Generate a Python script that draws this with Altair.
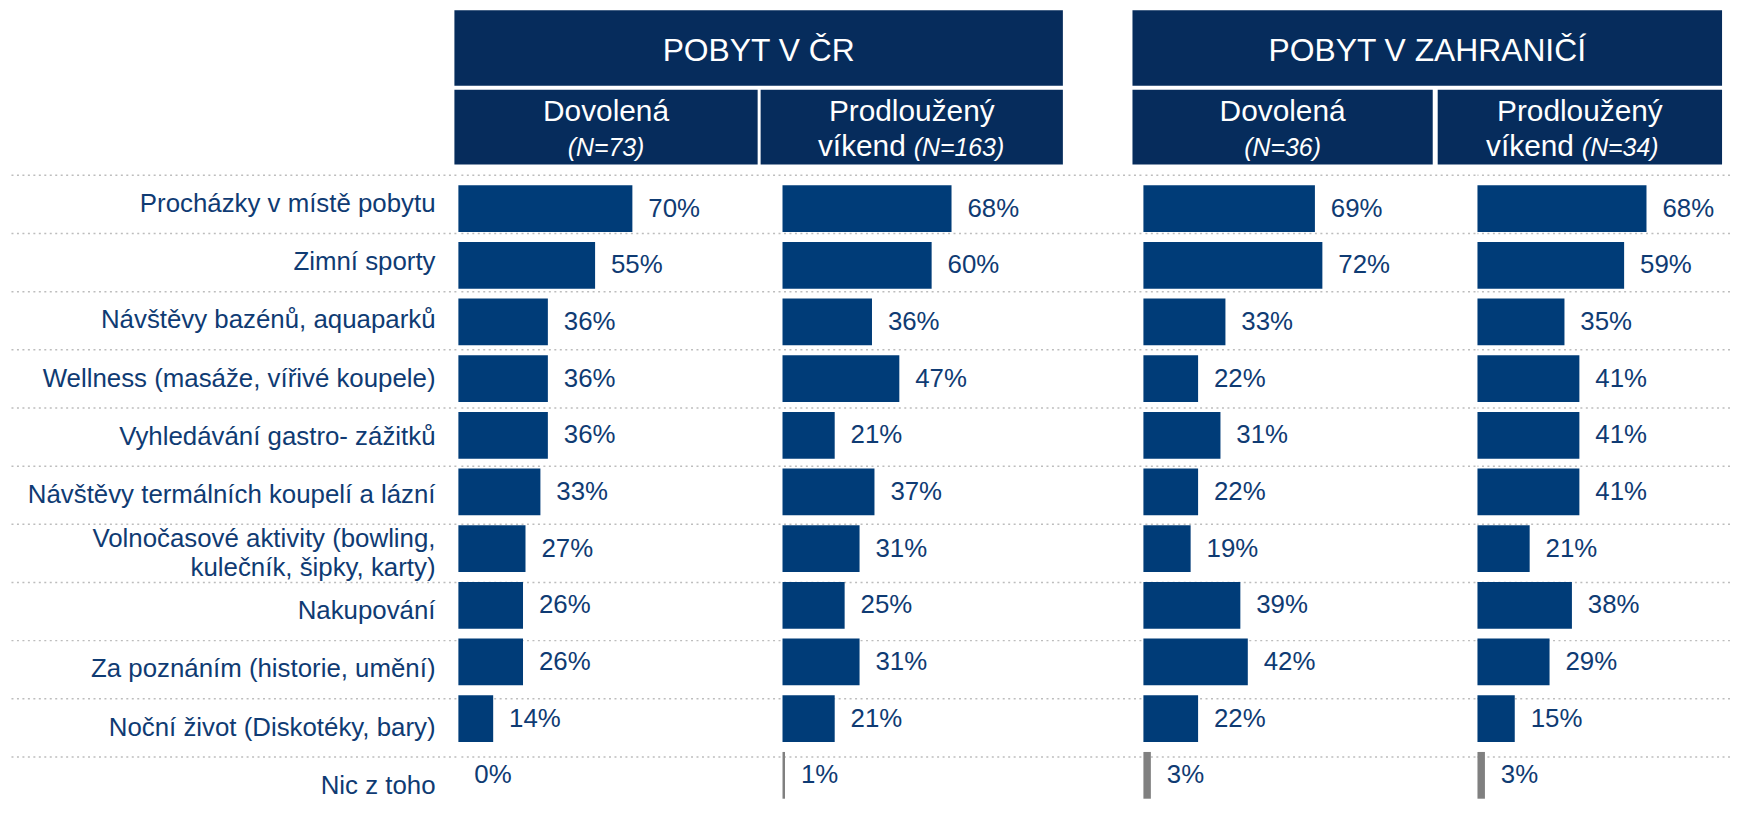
import altair as alt
import pandas as pd

# ---------------- data ----------------
categories = [
    "Procházky v místě pobytu",
    "Zimní sporty",
    "Návštěvy bazénů, aquaparků",
    "Wellness (masáže, vířivé koupele)",
    "Vyhledávání gastro- zážitků",
    "Návštěvy termálních koupelí a lázní",
    "Volnočasové aktivity (bowling,\nkulečník, šipky, karty)",
    "Nakupování",
    "Za poznáním (historie, umění)",
    "Noční život (Diskotéky, bary)",
    "Nic z toho",
]
cr_dovolena = [70, 55, 36, 36, 36, 33, 27, 26, 26, 14, 0]
cr_vikend = [68, 60, 36, 47, 21, 37, 31, 25, 31, 21, 1]
za_dovolena = [69, 72, 33, 22, 31, 22, 19, 39, 42, 22, 3]
za_vikend = [68, 59, 35, 41, 41, 41, 21, 38, 29, 15, 3]

group_titles = ["POBYT V ČR", "POBYT V ZAHRANIČÍ"]
sub_line1 = ["Dovolená", "Prodloužený", "Dovolená", "Prodloužený"]
sub_line2 = ["", "víkend", "", "víkend"]
sub_n = ["(N=73)", "(N=163)", "(N=36)", "(N=34)"]
none_label = "Nic z toho"

# ---------------- style ----------------
FONT = "Liberation Sans"
HDR = "#062C5C"
BAR = "#003C78"
GRAY = "#808080"
TXT = "#0F3B73"
GRID = "#BDBDBD"
PX_PER_PCT = 2.5

GROUP_H = 76
SUB_H = 75
BODY_H = 635
band_scale = alt.Scale(type="band", domain=categories, paddingInner=0.175,
                       paddingOuter=0.1579, align=0.944)
point_scale = alt.Scale(type="point", domain=categories, padding=0.4274,
                        align=0.14)

grid_df = pd.DataFrame({"cat": categories})


def grid_layer():
    return alt.Chart(grid_df).mark_rule(
        color=GRID, strokeDash=[2, 3.5], strokeWidth=1.5
    ).encode(y=alt.Y("cat:N", scale=point_scale, axis=None))


def spacer(w, h):
    return alt.Chart(pd.DataFrame({"t": [""]})).mark_text(opacity=0).encode(
        text="t:N", x=alt.value(w / 2), y=alt.value(h / 2)
    ).properties(width=w, height=h)


def box_view():
    return alt.ViewBackground(fill=HDR, strokeWidth=0)


def group_header(title, w, h):
    return alt.Chart(pd.DataFrame({"t": [title]})).mark_text(
        font=FONT, fontSize=32, color="white", align="center", baseline="middle"
    ).encode(text="t:N", x=alt.value(w / 2), y=alt.value(41)).properties(
        width=w, height=h, view=box_view()
    )


def sub_header(i, w, h):
    line1 = alt.Chart(pd.DataFrame({"t": [sub_line1[i]]})).mark_text(
        font=FONT, fontSize=30, color="white", align="center", baseline="middle"
    ).encode(text="t:N", x=alt.value(w / 2), y=alt.value(22))
    if sub_line2[i]:
        l2a = alt.Chart(pd.DataFrame({"t": [sub_line2[i]]})).mark_text(
            font=FONT, fontSize=30, color="white", align="right", baseline="middle"
        ).encode(text="t:N", x=alt.value(w / 2 - 6), y=alt.value(58))
        l2b = alt.Chart(pd.DataFrame({"t": [sub_n[i]]})).mark_text(
            font=FONT, fontSize=25, fontStyle="italic", color="white",
            align="left", baseline="middle"
        ).encode(text="t:N", x=alt.value(w / 2 + 2), y=alt.value(59))
        layers = [line1, l2a, l2b]
    else:
        l2 = alt.Chart(pd.DataFrame({"t": [sub_n[i]]})).mark_text(
            font=FONT, fontSize=25, fontStyle="italic", color="white",
            align="center", baseline="middle"
        ).encode(text="t:N", x=alt.value(w / 2), y=alt.value(59))
        layers = [line1, l2]
    return alt.layer(*layers).properties(width=w, height=h, view=box_view())


def panel(values, w):
    df = pd.DataFrame({"cat": categories, "v": values})
    xs = alt.Scale(domain=[0, w / PX_PER_PCT], nice=False, zero=True)
    base = alt.Chart(df).encode(
        y=alt.Y("cat:N", scale=band_scale, axis=None),
        x=alt.X("v:Q", scale=xs, axis=None),
    )
    bars = base.mark_bar().encode(
        color=alt.condition(alt.datum.cat == none_label, alt.value(GRAY), alt.value(BAR))
    )
    text = base.transform_calculate(lbl="datum.v + '%'").mark_text(
        font=FONT, fontSize=26, color=TXT, align="left", baseline="middle", dx=16
    ).encode(text="lbl:N")
    return alt.layer(grid_layer(), bars, text).resolve_scale(y="independent").properties(
        width=w, height=BODY_H
    )


label_base = alt.Chart(grid_df).encode(
    y=alt.Y("cat:N", scale=point_scale, axis=None),
    x=alt.value(429),
    text="cat:N",
)
single_labels = label_base.transform_filter(
    "indexof(datum.cat, '\\n') < 0"
).mark_text(
    font=FONT, fontSize=26, color=TXT, align="right", baseline="middle", dy=29
)
multi_labels = label_base.transform_filter(
    "indexof(datum.cat, '\\n') >= 0"
).mark_text(
    font=FONT, fontSize=26, color=TXT, align="right", baseline="middle", dy=15,
    lineBreak="\n", lineHeight=29
)
label_col = alt.layer(grid_layer(), single_labels, multi_labels).properties(
    width=450, height=BODY_H
)

row_group = alt.hconcat(
    spacer(448, GROUP_H),
    group_header(group_titles[0], 612, GROUP_H),
    spacer(70, GROUP_H),
    group_header(group_titles[1], 593, GROUP_H),
    spacing=0,
)
row_sub = alt.hconcat(
    spacer(448, SUB_H),
    sub_header(0, 305, SUB_H),
    spacer(3, SUB_H),
    sub_header(1, 304, SUB_H),
    spacer(70, SUB_H),
    sub_header(2, 302, SUB_H),
    spacer(5, SUB_H),
    sub_header(3, 286, SUB_H),
    spacing=0,
)
row_body = alt.hconcat(
    label_col,
    panel(cr_dovolena, 324),
    panel(cr_vikend, 361),
    panel(za_dovolena, 334),
    panel(za_vikend, 254),
    spacing=0,
)

chart = alt.vconcat(row_group, row_sub, row_body, spacing=4).properties(
    padding=0, background="white"
).configure_view(strokeWidth=0)

chart.save("out.html", embed_options={"renderer": "svg", "actions": False})
